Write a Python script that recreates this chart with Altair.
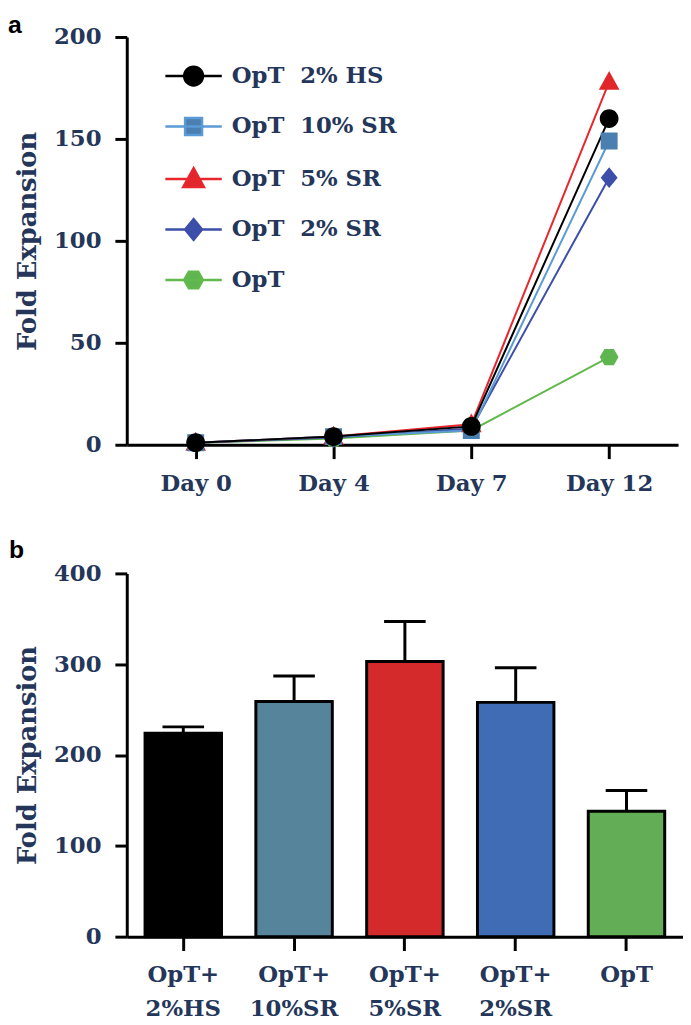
import altair as alt
import pandas as pd

# ---------------- data ----------------
days = ["Day 0", "Day 4", "Day 7", "Day 12"]
series_names = ["OpT \u00a02% HS", "OpT \u00a010% SR", "OpT \u00a05% SR", "OpT \u00a02% SR", "OpT"]
hs2 = [1, 4, 9, 160]
sr10 = [1, 4, 7, 149]
sr5 = [1, 4, 10, 178]
sr2 = [1, 3.5, 8, 131]
opt = [1, 3, 7, 43]

groups = ["OpT+ 2%HS", "OpT+ 10%SR", "OpT+ 5%SR", "OpT+ 2%SR", "OpT"]
means = [224, 259, 303, 258, 138]
errs = [7, 28, 44, 38, 23]

# ---------------- styles ----------------
NAVY = "#24365a"
SERIF = "DejaVu Serif"
line_colors = ["#000000", "#5b9bd5", "#e8262d", "#3b4fa8", "#62b94c"]
fill_colors = ["#000000", "#4a7fb0", "#e0262b", "#3d4faa", "#5fb54f"]
bar_colors = ["#000000", "#56849a", "#d42a2c", "#3f6cb4", "#63ad57"]

LINE = "M-3,0H3"
shape_paths = [
    LINE + "M-1,0A1,1 0 1,0 1,0A1,1 0 1,0 -1,0Z",
    LINE + "M-0.9,-0.9H0.9V0.9H-0.9Z",
    LINE + "M0,-1.15L1.1,0.85H-1.1Z",
    LINE + "M0,-1.1L0.9,0L0,1.1L-0.9,0Z",
    LINE + "M-1,0L-0.5,-0.87H0.5L1,0L0.5,0.87H-0.5Z",
]

# long table for panel a (draw order: green first, black last)
vals = {series_names[0]: hs2, series_names[1]: sr10, series_names[2]: sr5,
        series_names[3]: sr2, series_names[4]: opt}
rows = []
for s in reversed(series_names):
    for d, v in zip(days, vals[s]):
        rows.append({"day": d, "series": s, "value": v})
df_a = pd.DataFrame(rows)

df_b = pd.DataFrame({"group": groups, "mean": means,
                     "upper": [m + e for m, e in zip(means, errs)]})

# ---------------- panel a ----------------
xa = alt.X("day:N", sort=days, title=None,
           scale=alt.Scale(type="point", padding=0.5),
           axis=alt.Axis(labelAngle=0, tickSize=14, labelPadding=14))
ya = alt.Y("value:Q", title="Fold Expansion",
           scale=alt.Scale(domain=[0, 200], nice=False),
           axis=alt.Axis(values=[0, 50, 100, 150, 200], tickSize=12,
                         labelPadding=14, titlePadding=13))

leg = alt.Legend(title=None, orient="none", legendX=56, legendY=28,
                 symbolSize=361, symbolStrokeWidth=2.5, labelOffset=27,
                 rowPadding=22, labelFontSize=23, labelFont=SERIF,
                 labelFontWeight="bold", labelColor=NAVY, labelLimit=400)

lines = alt.Chart(df_a).mark_line(strokeWidth=2).encode(
    x=xa, y=ya,
    color=alt.Color("series:N", scale=alt.Scale(domain=series_names, range=line_colors),
                    legend=None),
)
points = alt.Chart(df_a).mark_point(filled=True, opacity=1).encode(
    x=xa, y=ya,
    fill=alt.Fill("series:N", scale=alt.Scale(domain=series_names, range=fill_colors), legend=leg),
    stroke=alt.Stroke("series:N", scale=alt.Scale(domain=series_names, range=line_colors), legend=leg),
    shape=alt.Shape("series:N", scale=alt.Scale(domain=series_names, range=shape_paths), legend=leg),
    strokeWidth=alt.value(0),
    size=alt.value(361),
)
label_a = alt.Chart(pd.DataFrame({"t": ["a"]})).mark_text(
    font="Liberation Sans", fontSize=25, fontWeight="bold", color="black",
    align="left", baseline="top").encode(
    text="t:N", x=alt.value(-120), y=alt.value(-24))

panel_a = alt.layer(lines, points, label_a).properties(width=557, height=412)

# ---------------- panel b ----------------
xb = alt.X("group:N", sort=groups, title=None,
           scale=alt.Scale(paddingInner=0.31, paddingOuter=0.165),
           axis=alt.Axis(labelAngle=0, tickSize=14, labelPadding=13,
                         labelExpr="split(datum.label, ' ')", labelLineHeight=35))
yb = alt.Y("mean:Q", title="Fold Expansion",
           scale=alt.Scale(domain=[0, 400], nice=False),
           axis=alt.Axis(values=[0, 100, 200, 300, 400], tickSize=12,
                         labelPadding=14, titlePadding=13))

bars = alt.Chart(df_b).mark_bar(stroke="black", strokeWidth=3).encode(
    x=xb, y=yb,
    color=alt.Color("group:N", scale=alt.Scale(domain=groups, range=bar_colors), legend=None),
)
err_rule = alt.Chart(df_b).mark_rule(color="black", strokeWidth=3).encode(
    x=xb, y="mean:Q", y2="upper:Q")
err_cap = alt.Chart(df_b).mark_tick(color="black", size=42, thickness=3, opacity=1).encode(
    x=xb, y="upper:Q")
label_b = alt.Chart(pd.DataFrame({"t": ["b"]})).mark_text(
    font="Liberation Sans", fontSize=25, fontWeight="bold", color="black",
    align="left", baseline="top").encode(
    text="t:N", x=alt.value(-119), y=alt.value(-36))

panel_b = alt.layer(err_rule, err_cap, bars, label_b).properties(width=562, height=367)

chart = alt.vconcat(panel_a, panel_b, spacing=43).resolve_scale(
    color="independent"
).properties(padding=0).configure_view(
    stroke=None
).configure_axis(
    grid=False, domainColor="black", domainWidth=3, tickColor="black", tickWidth=3,
    labelFont=SERIF, labelFontWeight="bold", labelColor=NAVY, labelFontSize=23,
    titleFont=SERIF, titleFontWeight="bold", titleColor=NAVY, titleFontSize=26,
)

chart.save("out.html", embed_options={"renderer": "svg", "actions": False})
